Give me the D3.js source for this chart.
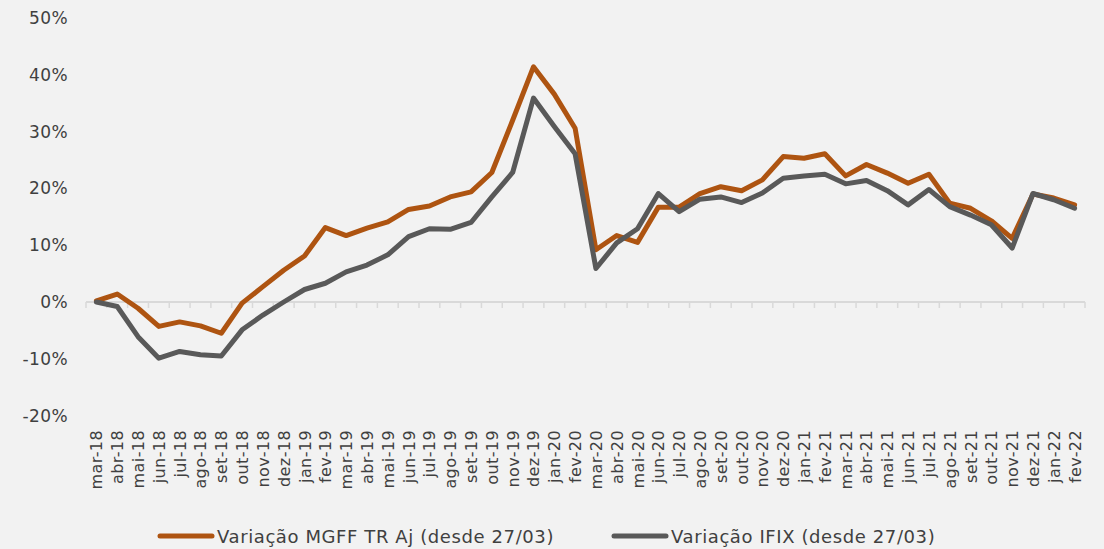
<!DOCTYPE html>
<html>
<head>
<meta charset="utf-8">
<script src="https://cdn.jsdelivr.net/npm/d3@7"></script>
<style>
  body { margin: 0; background: #f2f2f2; }
  svg { display: block; }
</style>
</head>
<body>
<div id="container"></div>
<script>
let w = 1104;
let h = 549;

// data
let months = ["mar-18","abr-18","mai-18","jun-18","jul-18","ago-18","set-18","out-18","nov-18","dez-18",
  "jan-19","fev-19","mar-19","abr-19","mai-19","jun-19","jul-19","ago-19","set-19","out-19","nov-19","dez-19",
  "jan-20","fev-20","mar-20","abr-20","mai-20","jun-20","jul-20","ago-20","set-20","out-20","nov-20","dez-20",
  "jan-21","fev-21","mar-21","abr-21","mai-21","jun-21","jul-21","ago-21","set-21","out-21","nov-21","dez-21",
  "jan-22","fev-22"];

let mgff = [0.2, 1.4, -1.1, -4.3, -3.5, -4.2, -5.5, -0.2, 2.7, 5.6,
  8.1, 13.1, 11.7, 13.0, 14.1, 16.3, 16.9, 18.5, 19.4, 22.8, 32.0, 41.4,
  36.6, 30.6, 9.2, 11.7, 10.5, 16.7, 16.7, 19.1, 20.3, 19.6, 21.5, 25.6,
  25.3, 26.1, 22.2, 24.2, 22.7, 20.9, 22.5, 17.4, 16.5, 14.3, 11.2, 19.0,
  18.3, 17.1];

let ifix = [0, -0.8, -6.1, -9.9, -8.7, -9.3, -9.5, -4.9, -2.3, 0,
  2.2, 3.3, 5.3, 6.5, 8.3, 11.5, 12.9, 12.8, 14.0, 18.5, 22.8, 35.9,
  30.9, 26.1, 5.9, 10.4, 12.9, 19.1, 15.9, 18.1, 18.5, 17.5, 19.2, 21.8,
  22.2, 22.5, 20.8, 21.4, 19.6, 17.1, 19.8, 16.8, 15.3, 13.6, 9.5, 19.1,
  18.0, 16.5];

let yTicks = [-20, -10, 0, 10, 20, 30, 40, 50];

let seriesNames = ["Variação MGFF TR Aj (desde 27/03)", "Variação IFIX (desde 27/03)"];
let seriesColors = ["#ae5411", "#595959"];

let font = "'DejaVu Sans', sans-serif";
let textColor = "#404040";

let viz = d3.select("#container")
  .append("svg")
    .attr("width", w)
    .attr("height", h)
    .style("background", "#f2f2f2")
;

// scales
let xScale = d3.scaleBand().domain(months).range([86, 1085]);
let yScale = d3.scaleLinear().domain([-20, 50]).range([415.6, 18]);

// y labels (no axis line)
let yAxisGroup = viz.append("g").attr("class", "yaxis")
  .attr("transform", "translate(68, 0)");
let yAxis = d3.axisLeft(yScale).tickValues(yTicks).tickSize(0).tickPadding(0)
  .tickFormat(function(d){ return d + "%"; });
yAxisGroup.call(yAxis);
yAxisGroup.select(".domain").remove();
yAxisGroup.selectAll("text")
  .attr("font-family", font)
  .attr("font-size", 17)
  .attr("letter-spacing", 0.4)
  .attr("fill", textColor);

// x axis at 0%
let xAxisGroup = viz.append("g").attr("class", "xaxis")
  .attr("transform", "translate(0, " + yScale(0) + ")");
xAxisGroup.append("line")
  .attr("x1", xScale.range()[0])
  .attr("x2", xScale.range()[1])
  .attr("stroke", "#d9d9d9")
  .attr("stroke-width", 2);

// tick marks between categories
let boundaries = months.map(function(d){ return xScale(d); }).concat([xScale.range()[1]]);
xAxisGroup.selectAll(".tickmark").data(boundaries).enter()
  .append("line")
    .attr("class", "tickmark")
    .attr("x1", function(d){ return d; })
    .attr("x2", function(d){ return d; })
    .attr("y1", 0)
    .attr("y2", 6)
    .attr("stroke", "#d9d9d9")
    .attr("stroke-width", 1.5);

// category labels, rotated
viz.append("g").attr("class", "xlabels")
  .selectAll("text").data(months).enter()
  .append("text")
    .text(function(d){ return d; })
    .attr("transform", function(d){
      let x = xScale(d) + xScale.bandwidth() / 2 + 6;
      return "translate(" + x + ", 430) rotate(-90)";
    })
    .attr("text-anchor", "end")
    .attr("font-family", font)
    .attr("font-size", 16)
    .attr("letter-spacing", 0.4)
    .attr("fill", textColor);

// lines
let line = d3.line()
  .x(function(d, i){ return xScale(months[i]) + xScale.bandwidth() / 2; })
  .y(function(d){ return yScale(d); });

let vizGroup = viz.append("g").attr("class", "vizGroup");
[mgff, ifix].forEach(function(series, i) {
  vizGroup.append("path")
    .datum(series)
    .attr("d", line)
    .attr("fill", "none")
    .attr("stroke", seriesColors[i])
    .attr("stroke-width", 5)
    .attr("stroke-linejoin", "round")
    .attr("stroke-linecap", "round");
});

// legend
let legendX = [160, 614];
let legend = viz.append("g").attr("class", "legend");
seriesNames.forEach(function(name, i) {
  let g = legend.append("g").attr("transform", "translate(" + legendX[i] + ", 536)");
  g.append("line")
    .attr("x1", 0).attr("x2", 52)
    .attr("stroke", seriesColors[i])
    .attr("stroke-width", 5)
    .attr("stroke-linecap", "round");
  g.append("text")
    .text(name)
    .attr("x", 57)
    .attr("y", 6.5)
    .attr("font-family", font)
    .attr("font-size", 18)
    .attr("letter-spacing", 0.6)
    .attr("fill", textColor);
});
</script>
</body>
</html>
